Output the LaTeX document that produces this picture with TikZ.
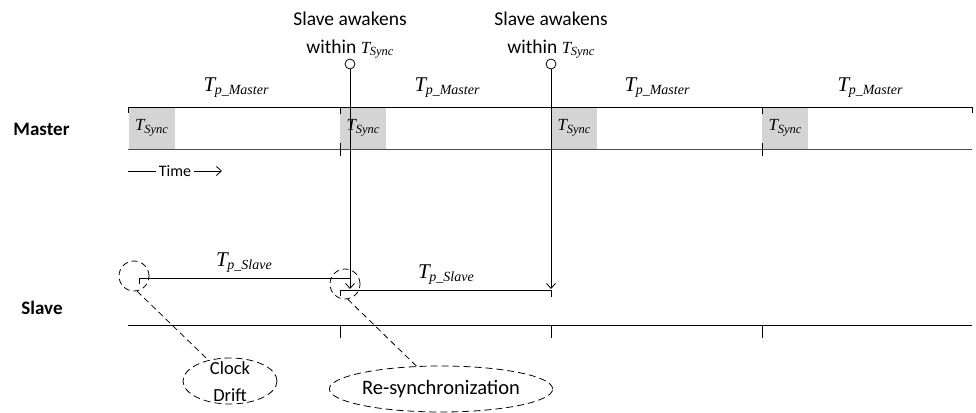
\documentclass[tikz,border=0pt]{standalone}
\usepackage{fontspec}
\setmainfont{Carlito}
\newfontfamily\tms{Liberation Serif}
\usetikzlibrary{arrows.meta,shapes.geometric}
\definecolor{syncgray}{RGB}{212,212,212}
\newcommand{\Tsub}[3]{{\tms\itshape\fontsize{#1}{#1}\selectfont T\kern-0.02em\raisebox{-0.15em}{\fontsize{#2}{#2}\selectfont #3}}}
\newcommand{\TPM}{\Tsub{21}{14}{p\_Master}}
\newcommand{\TPS}{\Tsub{21}{14}{p\_Slave}}
\newcommand{\TSy}{\Tsub{17}{12.5}{Sync}}
\begin{document}
\begin{tikzpicture}[x=1pt,y=-1pt,line width=0.8pt,
  >={Straight Barb[length=5pt,width=9pt]},
  boldlbl/.style={font=\fontsize{19}{19}\selectfont\bfseries},
  wakelbl/.style={align=center,font=\fontsize{19.5}{28}\selectfont},
  syncbox/.style={fill=syncgray,minimum width=46pt,minimum height=42pt,inner sep=0},
  wake/.style={circle,draw,minimum size=10pt,inner sep=0},
  driftc/.style={circle,draw,dash pattern=on 6pt off 4pt,minimum size=30pt,inner sep=0},
  note/.style={ellipse,draw,dash pattern=on 7pt off 4pt,inner sep=0},
  dashln/.style={dash pattern=on 6pt off 4pt},
  lbl/.style={inner sep=0}]
\useasboundingbox (0,0) rectangle (976,412);

% Master band
\node[syncbox] (sb1) at (151.5,128) {\TSy};
\node[syncbox] (sb2) at (363,128) {\TSy};
\node[syncbox] (sb3) at (574,128) {\TSy};
\node[syncbox] (sb4) at (785,128) {\TSy};
\coordinate (mt0) at (128,107); \coordinate (mt1) at (972,107);
\coordinate (mb0) at (128,149); \coordinate (mb1) at (972,149);
\draw (mt0) -- (mt1);
\draw[black!70] (mb0) -- (mb1);
\draw (mt0) -- ++(0,6);
\draw (mt1) -- ++(0,6);
\foreach \x in {340,551,762}{
  \draw (\x,107) -- (\x,114);
  \draw (\x,143) -- (\x,156);
}
\node[boldlbl] (master) at (41.5,129) {Master};

% period labels
\node[lbl] (pm1) at (236,88) {\TPM};
\node[lbl] (pm2) at (447,88) {\TPM};
\node[lbl] (pm3) at (657,88) {\TPM};
\node[lbl] (pm4) at (870,88) {\TPM};

% time arrow
\node[inner sep=2pt,font=\fontsize{16}{16}\selectfont] (time) at (175,171) {Time};
\coordinate (t0) at (128,171); \coordinate (t1) at (222,171);
\draw (t0) -- (time.west);
\draw[->] (time.east) -- (t1);

% wake markers
\node[wakelbl] (w1) at (350,35) {Slave awakens\\within \TSy};
\node[wakelbl] (w2) at (551,35) {Slave awakens\\within \TSy};
\node[wake] (wk1) at (350,64) {};
\node[wake] (wk2) at (551,64) {};
\coordinate (ar1) at (350,289);
\coordinate (ar2) at (551,289);
\draw[->] (wk1) -- (ar1);
\draw[->] (wk2) -- (ar2);

% slave periods
\coordinate (s1a) at (139,278); \coordinate (s1b) at (350,278);
\coordinate (s2a) at (340,290); \coordinate (s2b) at (551,290);
\draw (s1a) -- (s1b);
\draw (s1a) -- ++(0,6);
\draw (s2a) -- (s2b);
\draw (s2a) -- ++(0,6);
\draw (s2b) -- ++(0,7);
\node[lbl] (ps1) at (244,263) {\TPS};
\node[lbl] (ps2) at (446,275) {\TPS};

% slave baseline
\coordinate (sl0) at (128,325); \coordinate (sl1) at (972,325);
\draw (sl0) -- (sl1);
\foreach \x in {340,551,762}{
  \draw (\x,325) -- (\x,338);
}
\node[boldlbl] (slave) at (42,308) {Slave};

% annotations
\node[driftc] (dc1) at (134,276) {};
\node[driftc] (dc2) at (345,284) {};
\node[note,minimum width=94pt,minimum height=46pt] (cd) at (230,381) {};
\node[align=center,font=\fontsize{18.5}{27}\selectfont] (cdt) at (230,382) {Clock\\Drift};
\node[note,minimum width=182pt,minimum height=46pt,font=\fontsize{20.5}{20.5}\selectfont] (rs) at (441,389) {Re-synchronization};
\draw[dashln] (dc1.-79) -- (cd.136);
\draw[dashln] (dc2.-80) -- (rs.137);
\end{tikzpicture}
\end{document}
